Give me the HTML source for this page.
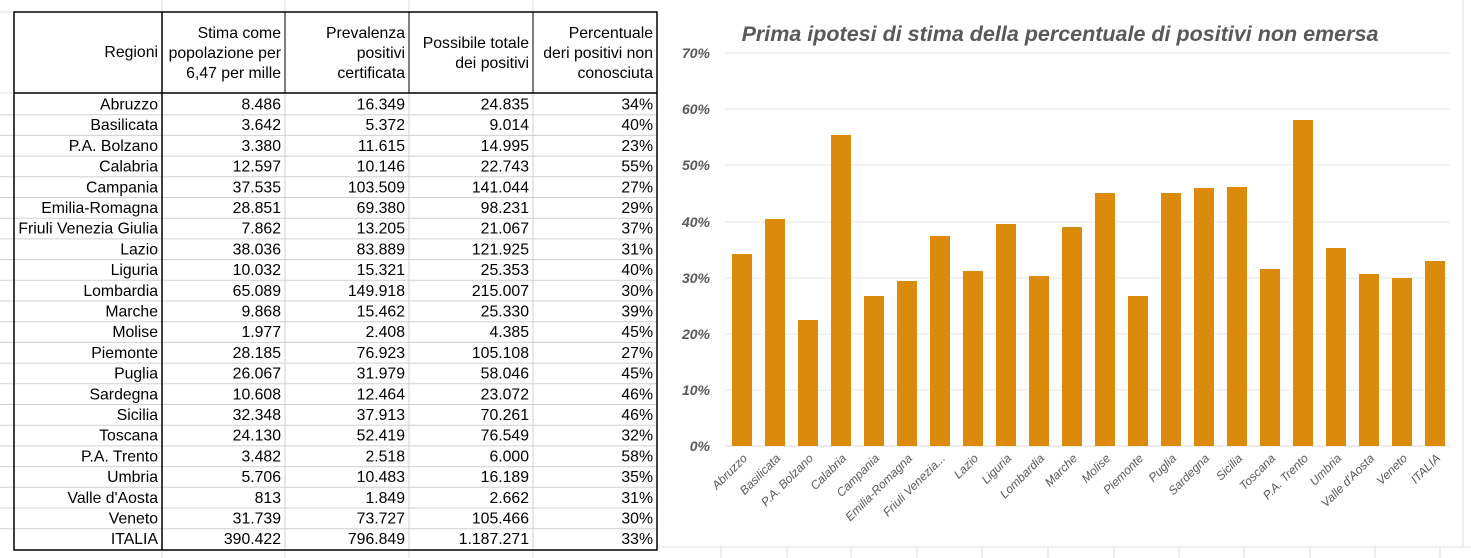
<!DOCTYPE html>
<html><head><meta charset="utf-8"><style>
html,body{margin:0;padding:0;background:#fff}
svg{display:block}
.n{font-family:"Liberation Sans",sans-serif;font-size:15.8px;fill:#000;text-anchor:end}
.y{font-family:"Liberation Sans",sans-serif;font-size:14px;font-weight:bold;font-style:italic;fill:#595959;text-anchor:end}
.x{font-family:"Liberation Sans",sans-serif;font-size:12px;font-style:italic;fill:#595959;text-anchor:end}
</style></head><body>
<svg width="1471" height="558" viewBox="0 0 1471 558" xmlns="http://www.w3.org/2000/svg">
<g stroke="#dcdcdc" stroke-width="1">
<line x1="0" y1="12" x2="14" y2="12"/><line x1="0" y1="93" x2="14" y2="93"/>
<line x1="162" y1="0" x2="162" y2="12"/><line x1="285" y1="0" x2="285" y2="12"/><line x1="409" y1="0" x2="409" y2="12"/><line x1="533" y1="0" x2="533" y2="12"/>
<line x1="162" y1="550" x2="162" y2="558"/><line x1="285" y1="550" x2="285" y2="558"/><line x1="409" y1="550" x2="409" y2="558"/><line x1="533" y1="550" x2="533" y2="558"/>
<line x1="721" y1="547" x2="721" y2="558"/><line x1="787" y1="547" x2="787" y2="558"/><line x1="851" y1="547" x2="851" y2="558"/><line x1="917" y1="547" x2="917" y2="558"/><line x1="982" y1="547" x2="982" y2="558"/><line x1="1048" y1="547" x2="1048" y2="558"/><line x1="1114" y1="547" x2="1114" y2="558"/><line x1="1179" y1="547" x2="1179" y2="558"/><line x1="1244" y1="547" x2="1244" y2="558"/><line x1="1310" y1="547" x2="1310" y2="558"/><line x1="1375" y1="547" x2="1375" y2="558"/><line x1="1440" y1="547" x2="1440" y2="558"/>
<line x1="657" y1="547" x2="1471" y2="547"/>
<line x1="1463" y1="0" x2="1463" y2="547"/>
</g>
<g stroke="#d0d0d0" stroke-width="1">
<line x1="0" y1="114.7" x2="657" y2="114.7"/><line x1="0" y1="135.4" x2="657" y2="135.4"/><line x1="0" y1="156.1" x2="657" y2="156.1"/><line x1="0" y1="176.8" x2="657" y2="176.8"/><line x1="0" y1="197.5" x2="657" y2="197.5"/><line x1="0" y1="218.2" x2="657" y2="218.2"/><line x1="0" y1="238.9" x2="657" y2="238.9"/><line x1="0" y1="259.6" x2="657" y2="259.6"/><line x1="0" y1="280.3" x2="657" y2="280.3"/><line x1="0" y1="301" x2="657" y2="301"/><line x1="0" y1="321.7" x2="657" y2="321.7"/><line x1="0" y1="342.4" x2="657" y2="342.4"/><line x1="0" y1="363.1" x2="657" y2="363.1"/><line x1="0" y1="383.8" x2="657" y2="383.8"/><line x1="0" y1="404.5" x2="657" y2="404.5"/><line x1="0" y1="425.2" x2="657" y2="425.2"/><line x1="0" y1="445.9" x2="657" y2="445.9"/><line x1="0" y1="466.6" x2="657" y2="466.6"/><line x1="0" y1="487.3" x2="657" y2="487.3"/><line x1="0" y1="508" x2="657" y2="508"/><line x1="0" y1="528.7" x2="657" y2="528.7"/>
<line x1="285" y1="93" x2="285" y2="550"/><line x1="409" y1="93" x2="409" y2="550"/><line x1="533" y1="93" x2="533" y2="550"/>
</g>
<g stroke="#000" stroke-width="1.5" fill="none">
<rect x="14" y="12" width="643" height="538"/>
<line x1="14" y1="93" x2="657" y2="93"/>
<line x1="162" y1="12" x2="162" y2="550"/>
</g>
<g stroke="#000" stroke-width="1">
<line x1="285" y1="12" x2="285" y2="93"/><line x1="409" y1="12" x2="409" y2="93"/><line x1="533" y1="12" x2="533" y2="93"/>
</g>
<text class="n" x="158" y="57">Regioni</text>
<text class="n" x="281" y="38">Stima come</text><text class="n" x="281" y="58">popolazione per</text><text class="n" x="281" y="78">6,47 per mille</text>
<text class="n" x="405" y="38">Prevalenza</text><text class="n" x="405" y="58">positivi</text><text class="n" x="405" y="78">certificata</text>
<text class="n" x="529" y="48">Possibile totale</text><text class="n" x="529" y="68">dei positivi</text>
<text class="n" x="653" y="38">Percentuale</text><text class="n" x="653" y="58">deri positivi non</text><text class="n" x="653" y="78">conosciuta</text>
<g>
<text class="n" x="158" y="109.5">Abruzzo</text><text class="n" x="281" y="109.5">8.486</text><text class="n" x="405" y="109.5">16.349</text><text class="n" x="529" y="109.5">24.835</text><text class="n" x="653" y="109.5">34%</text>
<text class="n" x="158" y="130.2">Basilicata</text><text class="n" x="281" y="130.2">3.642</text><text class="n" x="405" y="130.2">5.372</text><text class="n" x="529" y="130.2">9.014</text><text class="n" x="653" y="130.2">40%</text>
<text class="n" x="158" y="150.9">P.A. Bolzano</text><text class="n" x="281" y="150.9">3.380</text><text class="n" x="405" y="150.9">11.615</text><text class="n" x="529" y="150.9">14.995</text><text class="n" x="653" y="150.9">23%</text>
<text class="n" x="158" y="171.6">Calabria</text><text class="n" x="281" y="171.6">12.597</text><text class="n" x="405" y="171.6">10.146</text><text class="n" x="529" y="171.6">22.743</text><text class="n" x="653" y="171.6">55%</text>
<text class="n" x="158" y="192.3">Campania</text><text class="n" x="281" y="192.3">37.535</text><text class="n" x="405" y="192.3">103.509</text><text class="n" x="529" y="192.3">141.044</text><text class="n" x="653" y="192.3">27%</text>
<text class="n" x="158" y="213">Emilia-Romagna</text><text class="n" x="281" y="213">28.851</text><text class="n" x="405" y="213">69.380</text><text class="n" x="529" y="213">98.231</text><text class="n" x="653" y="213">29%</text>
<text class="n" x="158" y="233.7">Friuli Venezia Giulia</text><text class="n" x="281" y="233.7">7.862</text><text class="n" x="405" y="233.7">13.205</text><text class="n" x="529" y="233.7">21.067</text><text class="n" x="653" y="233.7">37%</text>
<text class="n" x="158" y="254.4">Lazio</text><text class="n" x="281" y="254.4">38.036</text><text class="n" x="405" y="254.4">83.889</text><text class="n" x="529" y="254.4">121.925</text><text class="n" x="653" y="254.4">31%</text>
<text class="n" x="158" y="275.1">Liguria</text><text class="n" x="281" y="275.1">10.032</text><text class="n" x="405" y="275.1">15.321</text><text class="n" x="529" y="275.1">25.353</text><text class="n" x="653" y="275.1">40%</text>
<text class="n" x="158" y="295.8">Lombardia</text><text class="n" x="281" y="295.8">65.089</text><text class="n" x="405" y="295.8">149.918</text><text class="n" x="529" y="295.8">215.007</text><text class="n" x="653" y="295.8">30%</text>
<text class="n" x="158" y="316.5">Marche</text><text class="n" x="281" y="316.5">9.868</text><text class="n" x="405" y="316.5">15.462</text><text class="n" x="529" y="316.5">25.330</text><text class="n" x="653" y="316.5">39%</text>
<text class="n" x="158" y="337.2">Molise</text><text class="n" x="281" y="337.2">1.977</text><text class="n" x="405" y="337.2">2.408</text><text class="n" x="529" y="337.2">4.385</text><text class="n" x="653" y="337.2">45%</text>
<text class="n" x="158" y="357.9">Piemonte</text><text class="n" x="281" y="357.9">28.185</text><text class="n" x="405" y="357.9">76.923</text><text class="n" x="529" y="357.9">105.108</text><text class="n" x="653" y="357.9">27%</text>
<text class="n" x="158" y="378.6">Puglia</text><text class="n" x="281" y="378.6">26.067</text><text class="n" x="405" y="378.6">31.979</text><text class="n" x="529" y="378.6">58.046</text><text class="n" x="653" y="378.6">45%</text>
<text class="n" x="158" y="399.3">Sardegna</text><text class="n" x="281" y="399.3">10.608</text><text class="n" x="405" y="399.3">12.464</text><text class="n" x="529" y="399.3">23.072</text><text class="n" x="653" y="399.3">46%</text>
<text class="n" x="158" y="420">Sicilia</text><text class="n" x="281" y="420">32.348</text><text class="n" x="405" y="420">37.913</text><text class="n" x="529" y="420">70.261</text><text class="n" x="653" y="420">46%</text>
<text class="n" x="158" y="440.7">Toscana</text><text class="n" x="281" y="440.7">24.130</text><text class="n" x="405" y="440.7">52.419</text><text class="n" x="529" y="440.7">76.549</text><text class="n" x="653" y="440.7">32%</text>
<text class="n" x="158" y="461.4">P.A. Trento</text><text class="n" x="281" y="461.4">3.482</text><text class="n" x="405" y="461.4">2.518</text><text class="n" x="529" y="461.4">6.000</text><text class="n" x="653" y="461.4">58%</text>
<text class="n" x="158" y="482.1">Umbria</text><text class="n" x="281" y="482.1">5.706</text><text class="n" x="405" y="482.1">10.483</text><text class="n" x="529" y="482.1">16.189</text><text class="n" x="653" y="482.1">35%</text>
<text class="n" x="158" y="502.8">Valle d'Aosta</text><text class="n" x="281" y="502.8">813</text><text class="n" x="405" y="502.8">1.849</text><text class="n" x="529" y="502.8">2.662</text><text class="n" x="653" y="502.8">31%</text>
<text class="n" x="158" y="523.5">Veneto</text><text class="n" x="281" y="523.5">31.739</text><text class="n" x="405" y="523.5">73.727</text><text class="n" x="529" y="523.5">105.466</text><text class="n" x="653" y="523.5">30%</text>
<text class="n" x="158" y="544.2">ITALIA</text><text class="n" x="281" y="544.2">390.422</text><text class="n" x="405" y="544.2">796.849</text><text class="n" x="529" y="544.2">1.187.271</text><text class="n" x="653" y="544.2">33%</text>
</g>
<text x="1060" y="41" text-anchor="middle" style="font-family:'Liberation Sans',sans-serif;font-size:21.5px;font-weight:bold;font-style:italic;fill:#595959">Prima ipotesi di stima della percentuale di positivi non emersa</text>
<g stroke="#e4e4e4" stroke-width="1">
<line x1="725" y1="53" x2="1450" y2="53"/><line x1="725" y1="109" x2="1450" y2="109"/><line x1="725" y1="165" x2="1450" y2="165"/><line x1="725" y1="222" x2="1450" y2="222"/><line x1="725" y1="278" x2="1450" y2="278"/><line x1="725" y1="334" x2="1450" y2="334"/><line x1="725" y1="390" x2="1450" y2="390"/>
</g>
<line x1="725" y1="446" x2="1450" y2="446" stroke="#d9d9d9"/>
<text class="y" x="710" y="58">70%</text><text class="y" x="710" y="114">60%</text><text class="y" x="710" y="170">50%</text><text class="y" x="710" y="227">40%</text><text class="y" x="710" y="283">30%</text><text class="y" x="710" y="339">20%</text><text class="y" x="710" y="395">10%</text><text class="y" x="710" y="451">0%</text>
<g fill="#db8a0b">
<rect x="732" y="254" width="20" height="192"/><rect x="765" y="219" width="20" height="227"/><rect x="798" y="320" width="20" height="126"/><rect x="831" y="135" width="20" height="311"/><rect x="864" y="296" width="20" height="150"/><rect x="897" y="281" width="20" height="165"/><rect x="930" y="236" width="20" height="210"/><rect x="963" y="271" width="20" height="175"/><rect x="996" y="224" width="20" height="222"/><rect x="1029" y="276" width="20" height="170"/><rect x="1062" y="227" width="20" height="219"/><rect x="1095" y="193" width="20" height="253"/><rect x="1128" y="296" width="20" height="150"/><rect x="1161" y="193" width="20" height="253"/><rect x="1194" y="188" width="20" height="258"/><rect x="1227" y="187" width="20" height="259"/><rect x="1260" y="269" width="20" height="177"/><rect x="1293" y="120" width="20" height="326"/><rect x="1326" y="248" width="20" height="198"/><rect x="1359" y="274" width="20" height="172"/><rect x="1392" y="278" width="20" height="168"/><rect x="1425" y="261" width="20" height="185"/>
</g>
<g>
<text class="x" transform="translate(748,459) rotate(-45)">Abruzzo</text>
<text class="x" transform="translate(781,459) rotate(-45)">Basilicata</text>
<text class="x" transform="translate(814,459) rotate(-45)">P.A. Bolzano</text>
<text class="x" transform="translate(847,459) rotate(-45)">Calabria</text>
<text class="x" transform="translate(880,459) rotate(-45)">Campania</text>
<text class="x" transform="translate(913,459) rotate(-45)">Emilia-Romagna</text>
<text class="x" transform="translate(946,459) rotate(-45)">Friuli Venezia...</text>
<text class="x" transform="translate(979,459) rotate(-45)">Lazio</text>
<text class="x" transform="translate(1012,459) rotate(-45)">Liguria</text>
<text class="x" transform="translate(1045,459) rotate(-45)">Lombardia</text>
<text class="x" transform="translate(1078,459) rotate(-45)">Marche</text>
<text class="x" transform="translate(1111,459) rotate(-45)">Molise</text>
<text class="x" transform="translate(1144,459) rotate(-45)">Piemonte</text>
<text class="x" transform="translate(1177,459) rotate(-45)">Puglia</text>
<text class="x" transform="translate(1210,459) rotate(-45)">Sardegna</text>
<text class="x" transform="translate(1243,459) rotate(-45)">Sicilia</text>
<text class="x" transform="translate(1276,459) rotate(-45)">Toscana</text>
<text class="x" transform="translate(1309,459) rotate(-45)">P.A. Trento</text>
<text class="x" transform="translate(1342,459) rotate(-45)">Umbria</text>
<text class="x" transform="translate(1375,459) rotate(-45)">Valle d'Aosta</text>
<text class="x" transform="translate(1408,459) rotate(-45)">Veneto</text>
<text class="x" transform="translate(1441,459) rotate(-45)">ITALIA</text>
</g>
</svg>
</body></html>
